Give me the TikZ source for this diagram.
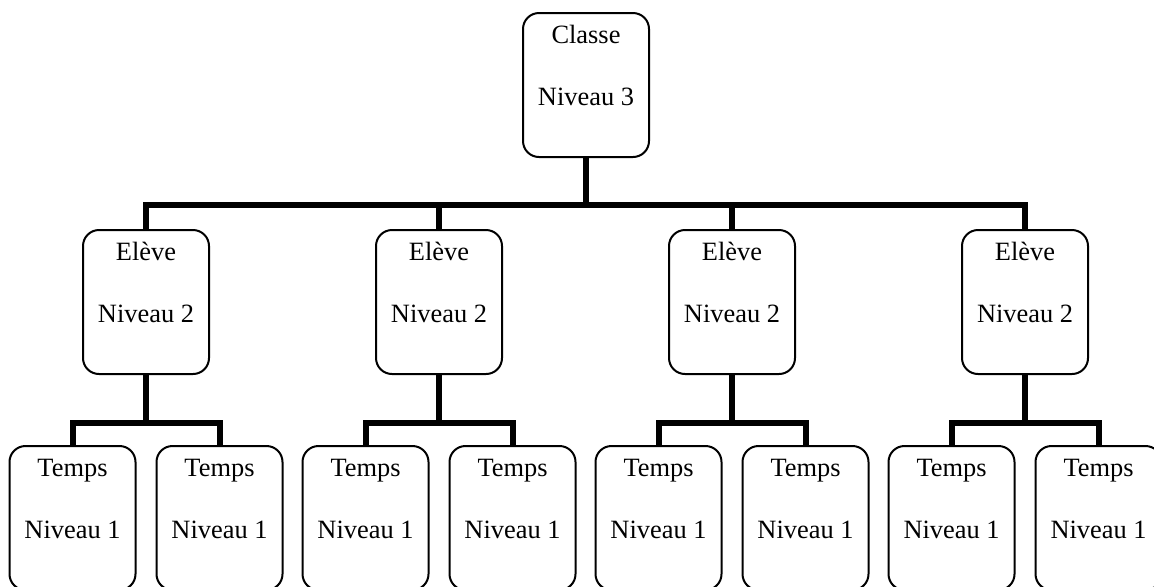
\documentclass[tikz,border=0pt]{standalone}
\usepackage{fontspec}
\setmainfont{Liberation Serif}
\begin{document}
\begin{tikzpicture}[x=0.5pt, y=-0.5pt,
    box/.style={draw, line width=1pt, rounded corners=8pt, minimum width=63pt, minimum height=72pt, inner sep=0pt},
    txt/.style={anchor=base, inner sep=0pt, font=\fontsize{13.2}{16}\selectfont},
    top line/.style={txt, yshift=-15.75pt},
    bottom line/.style={txt, yshift=-46.5pt},
    link/.style={line width=3pt}]
    \useasboundingbox (0,0) rectangle (1154,586);
    \clip (0,0) rectangle (1154,586);

    % niveau 3
    \node [box] (cl) at (586,85) {};
    \node [top line] (cl-a) at (cl.north) {Classe};
    \node [bottom line] (cl-b) at (cl.north) {Niveau 3};

    % niveau 2
    \node [box] (e1) at (146,302) {};
    \node [box] (e2) at (439,302) {};
    \node [box] (e3) at (732,302) {};
    \node [box] (e4) at (1025,302) {};
    \foreach \e in {e1,e2,e3,e4} {
        \node [top line] (\e-a) at (\e.north) {Elève};
        \node [bottom line] (\e-b) at (\e.north) {Niveau 2};
    }

    % niveau 1
    \node [box] (t1a) at (72.5,518) {};
    \node [box] (t1b) at (219.5,518) {};
    \node [box] (t2a) at (365.5,518) {};
    \node [box] (t2b) at (512.5,518) {};
    \node [box] (t3a) at (658.5,518) {};
    \node [box] (t3b) at (805.5,518) {};
    \node [box] (t4a) at (951.5,518) {};
    \node [box] (t4b) at (1098.5,518) {};
    \foreach \t in {t1a,t1b,t2a,t2b,t3a,t3b,t4a,t4b} {
        \node [top line] (\t-a) at (\t.north) {Temps};
        \node [bottom line] (\t-b) at (\t.north) {Niveau 1};
    }

    % liens
    \coordinate (bus) at (586,205);
    \draw [link] (cl.south) -- (bus) -| (e1.north);
    \draw [link] (bus) -| (e2.north);
    \draw [link] (bus) -| (e3.north);
    \draw [link] (bus) -| (e4.north);

    \foreach \e in {1,2,3,4} {
        \coordinate (b\e) at (e\e.south |- 0,423);
        \draw [link] (e\e.south) -- (b\e) -| (t\e a.north);
        \draw [link] (b\e) -| (t\e b.north);
    }
\end{tikzpicture}
\end{document}
